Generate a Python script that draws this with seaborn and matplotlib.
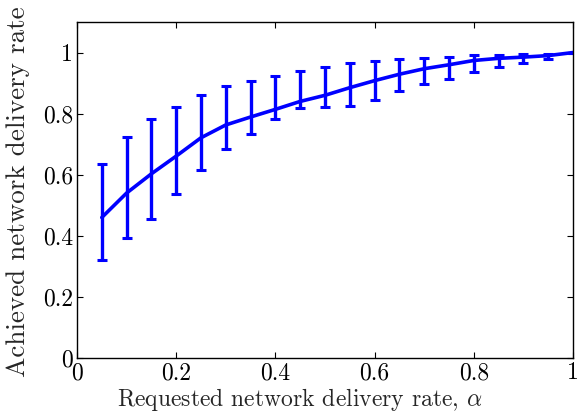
import matplotlib
matplotlib.use("Agg")
import matplotlib.pyplot as plt
import seaborn as sns
import pandas as pd

alpha = [0.05, 0.10, 0.15, 0.20, 0.25, 0.30, 0.35, 0.40, 0.45, 0.50,
         0.55, 0.60, 0.65, 0.70, 0.75, 0.80, 0.85, 0.90, 0.95, 1.00]
achieved = [0.46, 0.54, 0.603, 0.661, 0.721, 0.763, 0.789, 0.814, 0.840, 0.860,
            0.885, 0.908, 0.929, 0.947, 0.960, 0.974, 0.981, 0.985, 0.990, 1.0]
upper = [0.635, 0.724, 0.783, 0.821, 0.861, 0.890, 0.906, 0.922, 0.938, 0.952,
         0.967, 0.973, 0.978, 0.983, 0.987, 0.991, 0.992, 0.994, 0.996, 1.0]
lower = [0.320, 0.393, 0.454, 0.536, 0.617, 0.685, 0.733, 0.783, 0.817, 0.821,
         0.824, 0.845, 0.874, 0.898, 0.914, 0.935, 0.952, 0.967, 0.978, 1.0]

xticks = [0, 0.2, 0.4, 0.6, 0.8, 1.0]
xticklabels = ["0", "0.2", "0.4", "0.6", "0.8", "1"]
yticks = [0, 0.2, 0.4, 0.6, 0.8, 1.0]
yticklabels = ["0", "0.2", "0.4", "0.6", "0.8", "1"]

df = pd.DataFrame({"alpha": alpha, "achieved": achieved,
                   "upper": upper, "lower": lower})

sns.set_style("ticks")
plt.rcParams["font.family"] = ["cmr10", "DejaVu Serif"]
plt.rcParams["mathtext.fontset"] = "cm"
plt.rcParams["axes.formatter.use_mathtext"] = True

fig = plt.figure(figsize=(5.78, 4.15), dpi=100)
ax = fig.add_axes([0.1332, 0.1373, 0.8581, 0.8097])

sns.lineplot(data=df, x="alpha", y="achieved", color="#0000ff",
             linewidth=2.6, ax=ax)
yerr = [df["achieved"] - df["lower"], df["upper"] - df["achieved"]]
ax.errorbar(df["alpha"], df["achieved"], yerr=yerr, fmt="none",
            ecolor="#0000ff", elinewidth=2.4, capsize=3.4, capthick=2.2)

ax.set_xlim(0, 1)
ax.set_ylim(0, 1.1)
ax.set_xticks(xticks)
ax.set_xticklabels(xticklabels)
ax.set_yticks(yticks)
ax.set_yticklabels(yticklabels)
ax.tick_params(direction="in", length=4, width=0.8, top=True, right=True,
               labelsize=17, pad=3, colors="black")
for s in ax.spines.values():
    s.set_visible(True)
    s.set_linewidth(1.0)
    s.set_color("black")

ax.set_xlabel(r"Requested network delivery rate, $\alpha$", fontsize=17, labelpad=0)
ax.xaxis.set_label_coords(0.45, -0.083)
ax.set_ylabel("Achieved network delivery rate", fontsize=19.5, labelpad=2)
ax.yaxis.set_label_coords(-0.095, 0.495)

fig.savefig("out.png", dpi=100)
